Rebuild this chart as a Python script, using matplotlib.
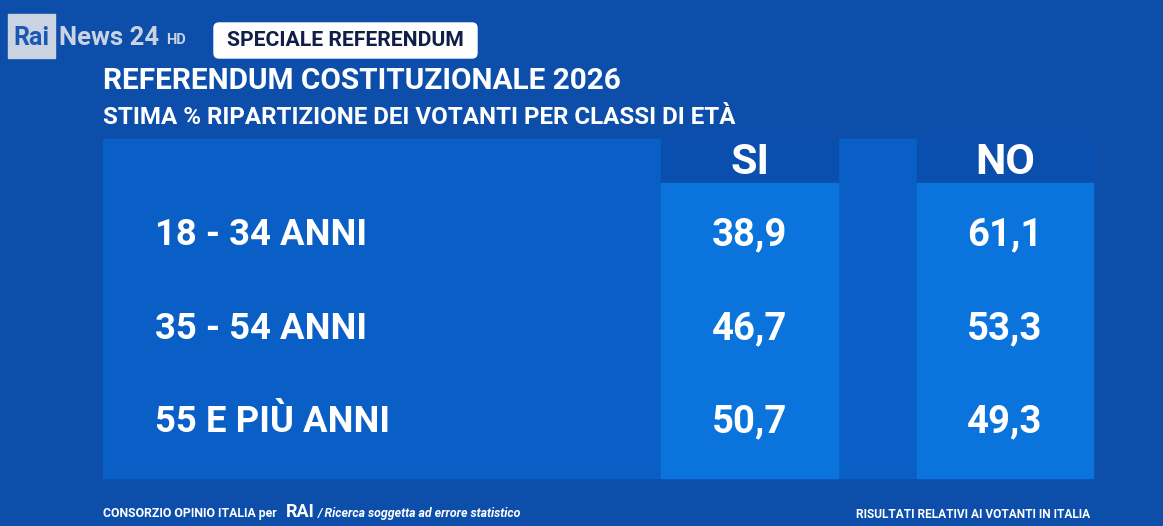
#!/usr/bin/env python3
"""Rai News 24 referendum table: vote split by age group."""

import matplotlib.pyplot as plt
from matplotlib.patches import Rectangle, FancyBboxPatch

# data
AGE_GROUPS = ["18 - 34 ANNI", "35 - 54 ANNI", "55 E PIÙ ANNI"]
SI_VALUES = [38.9, 46.7, 50.7]
NO_VALUES = [61.1, 53.3, 49.3]
COLUMNS = ["SI", "NO"]

TITLE = "REFERENDUM COSTITUZIONALE 2026"
SUBTITLE = "STIMA % RIPARTIZIONE DEI VOTANTI PER CLASSI DI ETÀ"

BG = "#0c4eaa"
PANEL = "#0a5fc6"
CELL = "#0a74dc"
HEAD = "#0b4fae"
FONT = "Roboto"


def fmt(v):
    return f"{v:.1f}".replace(".", ",")


def main():
    fig = plt.figure(figsize=(11.63, 5.26), dpi=100)
    fig.patch.set_facecolor(BG)
    ax = fig.add_axes([0, 0, 1, 1])
    ax.set_xlim(0, 1163)
    ax.set_ylim(526, 0)
    ax.axis("off")

    # logo + tag
    ax.add_patch(Rectangle((8, 14), 47, 44, color="#c9d3e2"))
    ax.text(31, 38, "Rai", color="#1d57b4", fontsize=18, fontweight="bold",
            family=FONT, ha="center", va="center")
    ax.text(59, 38, "News 24", color="#c9d3e2", fontsize=18.5, fontweight="bold",
            family=FONT, ha="left", va="center")
    ax.text(166, 40, "HD", color="#c9d3e2", fontsize=10.5, fontweight="bold",
            family=FONT, ha="left", va="center")
    ax.add_patch(FancyBboxPatch((214, 23), 263, 35,
                                boxstyle="round,pad=0,rounding_size=5",
                                color="white"))
    ax.text(345, 41, "SPECIALE REFERENDUM", color="#0f1f48", fontsize=15.2,
            fontweight="bold", family=FONT, ha="center", va="center")

    # titles
    ax.text(103, 81, TITLE, color="white", fontsize=21.4, fontweight="bold",
            family=FONT, ha="left", va="center")
    ax.text(103, 117, SUBTITLE, color="white", fontsize=17.4, fontweight="bold",
            family=FONT, ha="left", va="center")

    # table geometry
    top, head_bot, bottom = 139, 183, 478
    left, right = 103, 1093
    col_x = [(661, 838), (917, 1093)]
    row_y = [235, 329, 422]

    ax.add_patch(Rectangle((left, top), right - left, bottom - top, color=PANEL))
    values = [SI_VALUES, NO_VALUES]
    for (x0, x1), name, vals in zip(col_x, COLUMNS, values):
        ax.add_patch(Rectangle((x0, top), x1 - x0, head_bot - top, color=HEAD))
        ax.add_patch(Rectangle((x0, head_bot), x1 - x0, bottom - head_bot, color=CELL))
        cx = (x0 + x1) / 2
        ax.text(cx, 162, name, color="white", fontsize=31, fontweight="bold",
                family=FONT, ha="center", va="center")
        for y, v in zip(row_y, vals):
            ax.text(cx, y, fmt(v), color="white", fontsize=27.5, fontweight="bold",
                    family=FONT, ha="center", va="center")

    for y, label in zip(row_y, AGE_GROUPS):
        ax.text(155, y, label, color="white", fontsize=26.3, fontweight="bold",
                family=FONT, ha="left", va="center")

    # footer
    ax.text(103, 514, "CONSORZIO OPINIO ITALIA per", color="white", fontsize=8.8,
            fontweight="bold", family=FONT, ha="left", va="center")
    ax.text(286, 512, "RAI", color="white", fontsize=13, fontweight="bold",
            family=FONT, ha="left", va="center")
    ax.text(318, 514, "/ Ricerca soggetta ad errore statistico", color="white",
            fontsize=8.9, fontweight="bold", style="italic", family=FONT,
            ha="left", va="center")
    ax.text(1090, 514, "RISULTATI RELATIVI AI VOTANTI IN ITALIA", color="white",
            fontsize=8.6, fontweight="bold", family=FONT, ha="right", va="center")

    fig.savefig("out.png", dpi=100, facecolor=BG)
    plt.close(fig)


if __name__ == "__main__":
    main()
